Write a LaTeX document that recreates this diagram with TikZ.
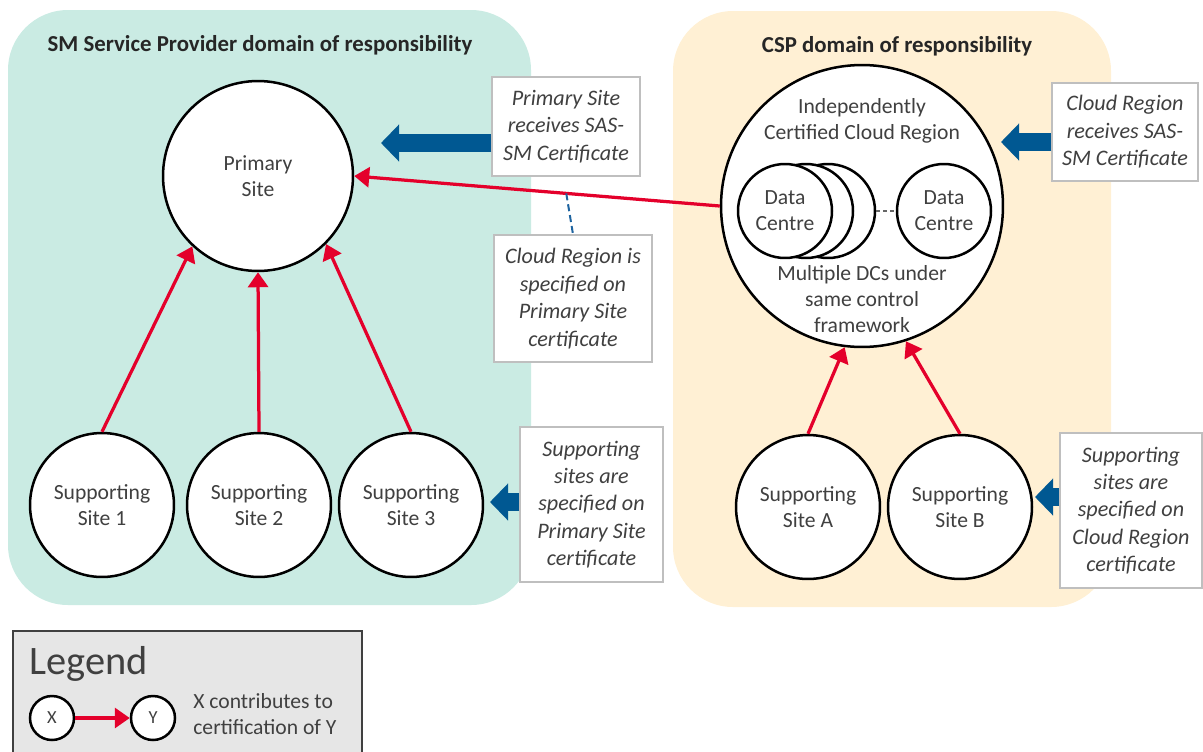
\documentclass[tikz,border=0pt]{standalone}
\usepackage{fontspec}
\setmainfont{Carlito}
\usetikzlibrary{arrows.meta,calc}
\definecolor{greenbg}{RGB}{202,235,227}
\definecolor{orangebg}{RGB}{255,240,212}
\definecolor{redarr}{RGB}{228,0,43}
\definecolor{bluearr}{RGB}{0,88,146}
\definecolor{dashblue}{RGB}{30,100,160}
\definecolor{txt}{RGB}{64,64,64}
\definecolor{titletxt}{RGB}{38,38,38}
\definecolor{notebd}{RGB}{191,191,191}
\definecolor{legbg}{RGB}{230,230,230}
\definecolor{legbd}{RGB}{64,64,64}
\begin{document}
\begin{tikzpicture}[x=0.02cm,y=-0.02cm,
  circ/.style={circle, draw=black, line width=0.05cm, fill=white, inner sep=0pt, align=center, text=txt, font=\fontsize{12.3}{14.8}\selectfont},
  site/.style={circ, minimum size=2.88cm},
  dcirc/.style={circ, minimum size=1.88cm},
  note/.style={draw=notebd, fill=white, line width=0.03cm, align=center, inner sep=0pt, text=txt, font=\fontsize{12.6}{15.6}\selectfont\itshape},
  domtitle/.style={text=titletxt, font=\fontsize{13}{15}\selectfont\bfseries},
  plain/.style={text=txt, align=center, font=\fontsize{12.3}{14.8}\selectfont},
  redarrow/.style={draw=redarr, line width=0.065cm, -{Triangle[length=0.3cm,width=0.4cm]}},
  bluearrow/.style={draw=bluearr, line width=0.36cm, -{Triangle[length=0.36cm,width=0.72cm]}}
]
\useasboundingbox (0,0) rectangle (1203,751);

% domains
\fill[greenbg, rounded corners=1.2cm] (8,10) rectangle (531,605);
\fill[orangebg, rounded corners=1.2cm] (673,11) rectangle (1111,607);
\node[domtitle] (t1) at (260,45) {SM Service Provider domain of responsibility};
\node[domtitle] (t2) at (897,46) {CSP domain of responsibility};

% legend
\draw[draw=legbd, fill=legbg, line width=0.04cm] (13,631) rectangle (362,780);
\node[anchor=west, text=txt, font=\fontsize{23}{27}\selectfont, inner sep=0pt] (lg) at (29,664) {Legend};
\node[circ, minimum size=0.88cm, font=\fontsize{10.5}{12}\selectfont] (lx) at (52,718) {X};
\node[circ, minimum size=0.88cm, font=\fontsize{10.5}{12}\selectfont] (ly) at (153,718) {Y};
\draw[redarrow] (lx) -- (ly);
\node[anchor=west, align=left, text=txt, font=\fontsize{12.3}{14.8}\selectfont, inner sep=0pt] (lt) at (193,714) {X contributes to\\certification of Y};

% main circles
\node[circ, minimum size=3.8cm] (p) at (258,176) {Primary\\Site};
\node[site] (s1) at (102,505) {Supporting\\Site 1};
\node[site] (s2) at (259,505) {Supporting\\Site 2};
\node[site] (s3) at (411,505) {Supporting\\Site 3};
\node[circ, minimum size=5.64cm] (cr) at (862,206) {};
\node[site] (sa) at (808,507) {Supporting\\Site A};
\node[site] (sb) at (960,507) {Supporting\\Site B};

% cloud region contents
\node[plain] (crt) at (862,121) {Independently\\Certified Cloud Region};
\node[plain] (crb) at (862,299) {Multiple DCs under\\same control\\framework};
\node[dcirc] (dc3) at (828,211) {};
\node[dcirc] (dc2) at (806,211) {};
\node[dcirc] (dc1) at (785,211) {Data\\Centre};
\node[dcirc] (dc4) at (944,211) {Data\\Centre};
\draw[gray!80!black, line width=0.025cm, dash pattern=on 0.08cm off 0.06cm] (dc3.east) -- (dc4.west);

% red arrows
\draw[redarrow] (s1.north) -- (p.-133);
\draw[redarrow] (s2.north) -- (p.south);
\draw[redarrow] (s3.north) -- (p.-45);
\draw[redarrow] (cr.west) -- (p.east);
\draw[redarrow] (sa.north) -- (cr.-97);
\draw[redarrow] (sb.north) -- (cr.-72);

% notes
\node[note, minimum width=2.96cm, minimum height=1.98cm] (n1) at (566,126.5) {Primary Site\\receives SAS-\\SM Certificate};
\node[note, minimum width=3.16cm, minimum height=2.54cm] (n2) at (573,298.5) {Cloud Region is\\specified on\\Primary Site\\certificate};
\node[note, minimum width=2.92cm, minimum height=1.96cm] (n3) at (1125,132) {Cloud Region\\receives SAS-\\SM Certificate};
\node[note, minimum width=2.86cm, minimum height=3.1cm] (n4) at (591.5,504.5) {Supporting\\sites are\\specified on\\Primary Site\\certificate};
\node[note, minimum width=2.84cm, minimum height=3.1cm] (n5) at (1131,510.5) {Supporting\\sites are\\specified on\\Cloud Region\\certificate};

% dashed link
\coordinate (dl) at ($(p.east)!0.58!(cr.west)$);
\draw[dashblue, line width=0.04cm, dash pattern=on 0.14cm off 0.08cm] (dl) -- (n2.north);

% blue arrows
\coordinate (b1) at (381,143);
\coordinate (b2) at (1001,142);
\coordinate (b3) at (490,502);
\coordinate (b4) at (1035,497);
\draw[bluearrow] (n1.west |- b1) -- (b1);
\draw[bluearrow] (n3.west |- b2) -- (b2);
\draw[bluearrow] (n4.west |- b3) -- (b3);
\draw[bluearrow] (n5.west |- b4) -- (b4);
\end{tikzpicture}
\end{document}
